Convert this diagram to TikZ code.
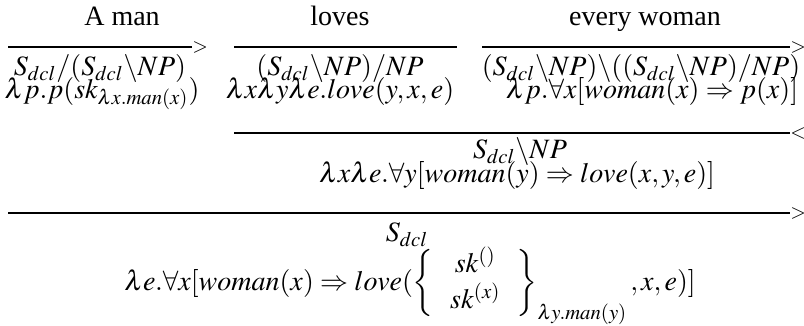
\documentclass[tikz,border=0pt]{standalone}
\usepackage{mathptmx}
\usepackage{fontspec}
\setmainfont{Liberation Serif}
\begin{document}
\begin{tikzpicture}[x=0.5pt,y=-0.5pt,
  txt/.style={font=\fontsize{14}{17}\selectfont, inner sep=0pt, anchor=base},
  rule/.style={line width=0.7pt},
  tip/.style={font=\fontsize{10}{12}\selectfont, inner sep=0pt, anchor=west}]
\useasboundingbox (0,0) rectangle (804,326);
% words
\node[txt] (w1) at (122,26) {A man};
\node[txt] (w2) at (340,26) {loves};
\node[txt] (w3) at (645,26) {every woman};
% lexical rules
\coordinate (a1) at (8,47); \coordinate (b1) at (192,47);
\draw[rule] (a1) -- (b1);
\node[tip] (t1) at (b1) {$>$};
\coordinate (a2) at (234,47); \coordinate (b2) at (457,47);
\draw[rule] (a2) -- (b2);
\coordinate (a3) at (482,47); \coordinate (b3) at (790,47);
\draw[rule] (a3) -- (b3);
\node[tip] (t3) at (b3) {$>$};
% categories
\node[txt] (c1) at (100,76) {$S_{dcl}/(S_{dcl}\backslash NP)$};
\node[txt] (c2) at (340,76) {$(S_{dcl}\backslash NP)/NP$};
\node[txt] (c3) at (641,76) {$(S_{dcl}\backslash NP)\backslash((S_{dcl}\backslash NP)/NP)$};
% semantics
\node[txt] (s1) at (102,99) {$\lambda p.p(sk_{\lambda x.man(x)})$};
\node[txt] (s2) at (340,99) {$\lambda x\lambda y\lambda e.love(y,x,e)$};
\node[txt] (s3) at (652,99) {$\lambda p.\forall x[woman(x)\Rightarrow p(x)]$};
% backward application
\coordinate (a4) at (234,133); \coordinate (b4) at (790,133);
\draw[rule] (a4) -- (b4);
\node[tip] (t4) at (b4) {$<$};
\node[txt] (c4) at (520,159) {$S_{dcl}\backslash NP$};
\node[txt] (s4) at (517,183) {$\lambda x\lambda e.\forall y[woman(y)\Rightarrow love(x,y,e)]$};
% forward application
\coordinate (a5) at (8,213); \coordinate (b5) at (790,213);
\draw[rule] (a5) -- (b5);
\node[tip] (t5) at (b5) {$>$};
\node[txt] (c5) at (407,242) {$S_{dcl}$};
\node[txt] (s5) at (410,290) {$\lambda e.\forall x[woman(x)\Rightarrow love(\left\{\;\begin{array}{c} sk^{()}\\ sk^{(x)}\end{array}\;\right\}_{\lambda y.man(y)},x,e)]$};
\end{tikzpicture}
\end{document}
